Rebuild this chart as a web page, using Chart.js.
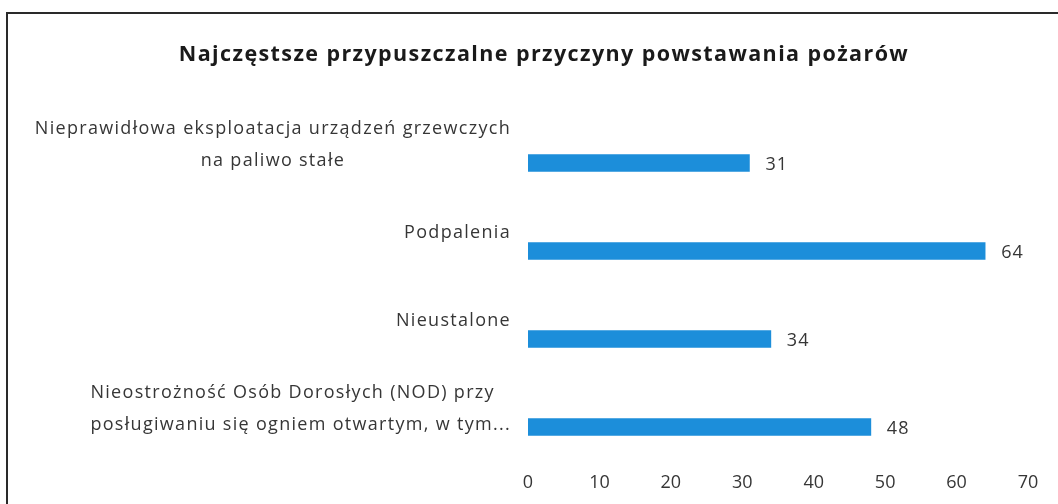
<!DOCTYPE html>
<html><head><meta charset="utf-8">
<script src="https://cdn.jsdelivr.net/npm/chart.js@4/dist/chart.umd.min.js"></script>
<style>html,body{margin:0;padding:0;background:#fff}#wrap{position:relative;width:1058px;height:504px}</style>
</head><body><div id="wrap"><canvas id="c"></canvas></div>
<script>
const chartTitle = 'Najczęstsze przypuszczalne przyczyny powstawania pożarów';
const categories = [
  ['Nieprawidłowa eksploatacja urządzeń grzewczych', 'na paliwo stałe'],
  ['Podpalenia'],
  ['Nieustalone'],
  ['Nieostrożność Osób Dorosłych (NOD) przy', 'posługiwaniu się ogniem otwartym, w tym...']
];
const values = [31, 64, 34, 48];
const xTicks = [0, 10, 20, 30, 40, 50, 60, 70];

const labelAlign = ['center', 'center', 'center', 'left'];
const TEXT_COLOR = '#363636';

const framePlugin = {
  id: 'frame',
  beforeDraw(chart) {
    const ctx = chart.ctx;
    ctx.save();
    ctx.fillStyle = '#fff';
    ctx.fillRect(0, 0, chart.width, chart.height);
    ctx.strokeStyle = '#2a2a2a';
    ctx.lineWidth = 2;
    ctx.beginPath();
    ctx.moveTo(7, chart.height);
    ctx.lineTo(7, 13);
    ctx.lineTo(chart.width, 13);
    ctx.stroke();
    // title
    ctx.font = 'bold 21.5px "Open Sans"';
    ctx.fillStyle = '#1a1a1a';
    ctx.textAlign = 'center';
    ctx.textBaseline = 'middle';
    ctx.letterSpacing = '1.4px';
    ctx.fillText(chartTitle, 544, 55);
    ctx.restore();
  }
};

const labelPlugin = {
  id: 'labels',
  afterDatasetsDraw(chart) {
    const ctx = chart.ctx;
    const ys = chart.scales.y;
    ctx.save();
    ctx.font = '18px "Open Sans"';
    ctx.letterSpacing = '1.3px';
    ctx.fillStyle = TEXT_COLOR;
    ctx.textBaseline = 'middle';
    const LH = 32;
    const right = ys.right - 17;
    categories.forEach((lines, i) => {
      const cy = ys.getPixelForValue(i) - 18;
      const widths = lines.map(l => ctx.measureText(l).width);
      const bw = Math.max(...widths);
      const left = right - bw;
      lines.forEach((l, j) => {
        const y = cy + (j - (lines.length - 1) / 2) * LH;
        if (labelAlign[i] === 'left') { ctx.textAlign = 'left'; ctx.fillText(l, left, y); }
        else { ctx.textAlign = 'center'; ctx.fillText(l, left + bw / 2, y); }
      });
    });
    // value labels
    ctx.font = '18px "Open Sans"';
    ctx.letterSpacing = '1px';
    ctx.textAlign = 'left';
    const meta = chart.getDatasetMeta(0);
    meta.data.forEach((el, i) => {
      ctx.fillText(String(values[i]), el.x + 16, el.y + 2);
    });
    ctx.restore();
  }
};

new Chart(document.getElementById('c'), {
  type: 'bar',
  data: {
    labels: categories.map(c => c.join(' ')),
    datasets: [{
      data: values,
      backgroundColor: '#1C8EDA',
      barThickness: 17
    }]
  },
  options: {
    indexAxis: 'y',
    responsive: true,
    maintainAspectRatio: false,
    animation: false,
    layout: { padding: { left: 60, right: 30, top: 119, bottom: 0 } },
    plugins: {
      legend: { display: false },
      tooltip: { enabled: false },
      title: { display: false }
    },
    scales: {
      x: {
        min: xTicks[0],
        max: xTicks[xTicks.length - 1],
        afterBuildTicks: s => { s.ticks = xTicks.map(v => ({ value: v })); },
        afterFit: s => { s.height = 33; },
        grid: { display: false, drawTicks: false },
        border: { display: false },
        ticks: { color: TEXT_COLOR, font: { family: 'Open Sans', size: 18 }, padding: 1 }
      },
      y: {
        afterFit: s => { s.width = 468; },
        grid: { display: false, drawTicks: false },
        border: { display: false },
        ticks: { display: false }
      }
    }
  },
  plugins: [framePlugin, labelPlugin]
});
</script>
</body></html>
